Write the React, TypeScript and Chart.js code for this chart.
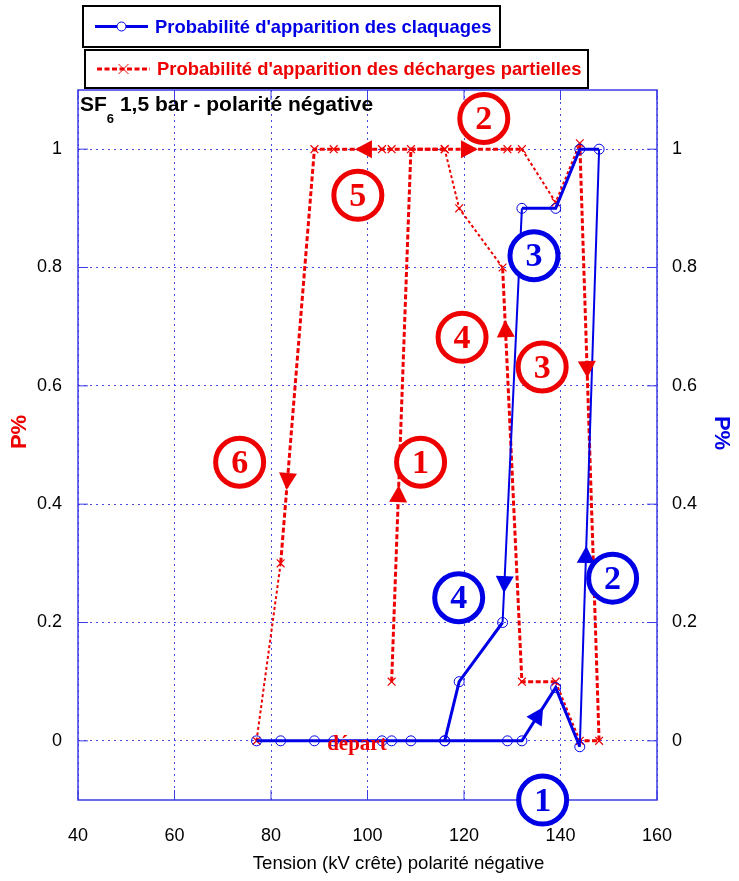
import { useEffect, useRef } from 'react';
import { Chart, registerables } from 'chart.js';

Chart.register(...registerables);

// ---- Data ----
const claquagesLabel = "Probabilité d'apparition des claquages";
const claquagesX = [77, 82, 89, 93, 103, 105, 109, 116, 129, 132, 139, 144, 148, 144, 139, 132, 128, 119, 116];
const claquagesY = [0, 0, 0, 0, 0, 0, 0, 0, 0, 0, 0.09, -0.01, 1, 1, 0.9, 0.9, 0.2, 0.1, 0];

const dechargesLabel = "Probabilité d'apparition des décharges partielles";
const dechargesX = [105, 109, 116, 129, 132, 139, 144, 148, 144, 139, 132, 128, 119, 116, 105, 103, 93, 89, 82, 77];
const dechargesY = [0.1, 1, 1, 1, 1, 0.91, 1.01, 0, 0, 0.1, 0.1, 0.8, 0.9, 1, 1, 1, 1, 1, 0.3, 0];

const xTicks = [40, 60, 80, 100, 120, 140, 160];
const yTicks = [0, 0.2, 0.4, 0.6, 0.8, 1];
const yTickLabels = ['0', '0.2', '0.4', '0.6', '0.8', '1'];

const titleMain = 'SF';
const titleSub = '6';
const titleRest = ' 1,5 bar - polarité négative';
const xTitle = 'Tension (kV crête) polarité négative';
const yTitle = 'P%';
const startText = 'départ';
const startX = 97.8;
const startY = -0.007;

// numbered circle annotations (data coordinates)
const redNumbers = ['1', '2', '3', '4', '5', '6'];
const redNumX = [111.0, 124.1, 136.2, 119.6, 98.0, 73.5];
const redNumY = [0.471, 1.052, 0.632, 0.682, 0.922, 0.471];
const blueNumbers = ['1', '2', '3', '4'];
const blueNumX = [136.3, 150.8, 134.5, 118.9];
const blueNumY = [-0.1, 0.275, 0.82, 0.242];

// arrows: segment index in the series, fraction along segment where the tip sits
const redArrowSeg = [0, 2, 6, 10, 15, 17];
const redArrowT = [0.369, 0.53, 0.393, 0.873, 0.56, 0.823];
const blueArrowSeg = [9, 11, 15];
const blueArrowT = [0.63, 0.336, 0.929];

// segments drawn with the finer stroke in the original figure
const redFineSegments = [4, 5, 8, 11, 12, 18];
const blueFineSegments = [11, 15];

const BLUE = '#0000e6';
const RED = '#ee0000';
const FRAME = '#3c3ce6';
const GRID = 'rgba(40,40,225,0.85)';

function pts(xs: number[], ys: number[]) {
  return xs.map((x, i) => ({ x, y: ys[i] }));
}

function drawCross(ctx: CanvasRenderingContext2D, x: number, y: number, r: number) {
  ctx.beginPath();
  ctx.moveTo(x - r, y - r);
  ctx.lineTo(x + r, y + r);
  ctx.moveTo(x + r, y - r);
  ctx.lineTo(x - r, y + r);
  ctx.stroke();
}

const annotationPlugin = {
  id: 'annot',
  beforeDatasetsDraw(chart: any) {
    const { ctx, chartArea: a, scales } = chart;
    const xs = scales.x;
    const ys = scales.y;
    ctx.save();
    // frame
    ctx.strokeStyle = FRAME;
    ctx.lineWidth = 1.5;
    ctx.setLineDash([]);
    ctx.strokeRect(a.left, a.top, a.right - a.left, a.bottom - a.top);
    // inward ticks
    ctx.beginPath();
    xTicks.forEach((v) => {
      const px = xs.getPixelForValue(v);
      ctx.moveTo(px, a.bottom);
      ctx.lineTo(px, a.bottom - 10);
      ctx.moveTo(px, a.top);
      ctx.lineTo(px, a.top + 10);
    });
    yTicks.forEach((v) => {
      const py = ys.getPixelForValue(v);
      ctx.moveTo(a.left, py);
      ctx.lineTo(a.left + 10, py);
      ctx.moveTo(a.right, py);
      ctx.lineTo(a.right - 10, py);
    });
    ctx.lineWidth = 1;
    ctx.stroke();
    ctx.restore();
  },
  afterDatasetsDraw(chart: any) {
    const { ctx, scales } = chart;
    const xs = scales.x;
    const ys = scales.y;
    const P = (x: number, y: number) => [xs.getPixelForValue(x), ys.getPixelForValue(y)];

    ctx.save();
    // arrows
    const drawArrow = (sx: number[], sy: number[], seg: number, t: number, color: string) => {
      const [x1, y1] = P(sx[seg], sy[seg]);
      const [x2, y2] = P(sx[seg + 1], sy[seg + 1]);
      const dx = x2 - x1;
      const dy = y2 - y1;
      const len = Math.hypot(dx, dy);
      const ux = dx / len;
      const uy = dy / len;
      const tx = x1 + dx * t;
      const ty = y1 + dy * t;
      const L = 17;
      const H = 9;
      const bx = tx - ux * L;
      const by = ty - uy * L;
      ctx.beginPath();
      ctx.moveTo(tx, ty);
      ctx.lineTo(bx - uy * H, by + ux * H);
      ctx.lineTo(bx + uy * H, by - ux * H);
      ctx.closePath();
      ctx.fillStyle = color;
      ctx.fill();
    };
    redArrowSeg.forEach((s, i) => drawArrow(dechargesX, dechargesY, s, redArrowT[i], RED));
    blueArrowSeg.forEach((s, i) => drawArrow(claquagesX, claquagesY, s, blueArrowT[i], BLUE));

    // numbered circles
    const drawNum = (label: string, x: number, y: number, color: string) => {
      const [px, py] = P(x, y);
      ctx.beginPath();
      ctx.arc(px, py, 24, 0, Math.PI * 2);
      ctx.fillStyle = '#ffffff';
      ctx.fill();
      ctx.lineWidth = 5;
      ctx.strokeStyle = color;
      ctx.stroke();
      ctx.fillStyle = color;
      ctx.font = 'bold 34px "Liberation Serif", "Times New Roman", serif';
      ctx.textAlign = 'center';
      ctx.textBaseline = 'middle';
      ctx.fillText(label, px, py + 2);
    };
    redNumbers.forEach((l, i) => drawNum(l, redNumX[i], redNumY[i], RED));
    blueNumbers.forEach((l, i) => drawNum(l, blueNumX[i], blueNumY[i], BLUE));

    // départ
    const [dx0, dy0] = P(startX, startY);
    ctx.fillStyle = RED;
    ctx.font = 'bold 21px "Liberation Serif", "Times New Roman", serif';
    ctx.textAlign = 'center';
    ctx.textBaseline = 'middle';
    ctx.fillText(startText, dx0, dy0);
    ctx.restore();
  },
  afterDraw(chart: any) {
    const { ctx, chartArea: a } = chart;
    const ds = chart.data.datasets;
    ctx.save();
    // legend boxes
    const drawBox = (x0: number, y0: number, x1: number, y1: number, idx: number) => {
      const d = ds[idx];
      ctx.setLineDash([]);
      ctx.lineWidth = 2;
      ctx.strokeStyle = '#000000';
      ctx.strokeRect(x0, y0, x1 - x0, y1 - y0);
      const cy = (y0 + y1) / 2;
      ctx.strokeStyle = d.borderColor;
      ctx.lineWidth = 3;
      ctx.setLineDash(d.borderDash || []);
      ctx.beginPath();
      ctx.moveTo(x0 + 12, cy);
      ctx.lineTo(x0 + 65, cy);
      ctx.stroke();
      ctx.setLineDash([]);
      ctx.lineWidth = 1;
      const mx = x0 + 38.5;
      if (idx === 0) {
        ctx.beginPath();
        ctx.arc(mx, cy, 4.5, 0, Math.PI * 2);
        ctx.fillStyle = '#ffffff';
        ctx.fill();
        ctx.stroke();
      } else {
        drawCross(ctx, mx, cy, 5);
      }
      ctx.fillStyle = d.borderColor;
      ctx.font = 'bold 18.4px "Liberation Sans", Arial, sans-serif';
      ctx.textAlign = 'left';
      ctx.textBaseline = 'middle';
      ctx.fillText(d.label, x0 + 72, cy + 1);
    };
    drawBox(83, 6, 500, 47, 0);
    drawBox(85, 50, 588, 88, 1);

    // chart title
    ctx.fillStyle = '#000000';
    ctx.textAlign = 'left';
    ctx.textBaseline = 'alphabetic';
    ctx.font = 'bold 21px "Liberation Sans", Arial, sans-serif';
    ctx.fillText(titleMain, a.left + 2, a.top + 21);
    const w1 = ctx.measureText(titleMain).width;
    ctx.font = 'bold 13px "Liberation Sans", Arial, sans-serif';
    ctx.fillText(titleSub, a.left + 2 + w1, a.top + 33);
    const w2 = ctx.measureText(titleSub).width;
    ctx.font = 'bold 21px "Liberation Sans", Arial, sans-serif';
    ctx.fillText(titleRest, a.left + 2 + w1 + w2, a.top + 21);

    // x axis title
    ctx.font = '18.6px "Liberation Sans", Arial, sans-serif';
    ctx.textAlign = 'center';
    ctx.textBaseline = 'middle';
    ctx.fillText(xTitle, (a.left + a.right) / 2 + 31, 864);

    // y titles
    ctx.font = 'bold 22px "Liberation Sans", Arial, sans-serif';
    ctx.save();
    ctx.translate(20, 432);
    ctx.rotate(-Math.PI / 2);
    ctx.fillStyle = RED;
    ctx.fillText(yTitle, 0, 0);
    ctx.restore();
    ctx.save();
    ctx.translate(721, 433);
    ctx.rotate(Math.PI / 2);
    ctx.fillStyle = BLUE;
    ctx.fillText(yTitle, 0, 0);
    ctx.restore();
    ctx.restore();
  },
};

const tickFont = { family: '"Liberation Sans", Arial, sans-serif', size: 18 };

export default function App() {
  const ref = useRef<HTMLCanvasElement>(null);
  useEffect(() => {
    document.body.style.margin = '0';
    const setTicks = (scale: any) => {
      scale.ticks = yTicks.map((v) => ({ value: v }));
    };
    const tickLabel = (v: any) => {
      const i = yTicks.findIndex((t) => Math.abs(t - v) < 1e-9);
      return i >= 0 ? yTickLabels[i] : '';
    };
    const chart = new Chart(ref.current as HTMLCanvasElement, {
      type: 'scatter',
      data: {
        datasets: [
          {
            label: claquagesLabel,
            data: pts(claquagesX, claquagesY),
            showLine: true,
            borderColor: BLUE,
            backgroundColor: 'rgba(0,0,0,0)',
            borderWidth: 3,
            pointStyle: 'circle',
            pointRadius: 5,
            pointBorderWidth: 1,
            pointBorderColor: BLUE,
            pointBackgroundColor: 'rgba(0,0,0,0)',
            tension: 0,
            yAxisID: 'y',
            segment: {
              borderWidth: (c: any) => (blueFineSegments.includes(c.p0DataIndex) ? 2 : 3),
            },
          },
          {
            label: dechargesLabel,
            data: pts(dechargesX, dechargesY),
            showLine: true,
            borderColor: RED,
            backgroundColor: 'rgba(0,0,0,0)',
            borderWidth: 3,
            borderDash: [5, 2.5],
            pointStyle: 'crossRot',
            pointRadius: 5.5,
            pointBorderWidth: 1.2,
            pointBorderColor: RED,
            tension: 0,
            yAxisID: 'y',
            segment: {
              borderWidth: (c: any) => (redFineSegments.includes(c.p0DataIndex) ? 2 : 3),
              borderDash: (c: any) => (redFineSegments.includes(c.p0DataIndex) ? [3, 2.5] : [5, 2.5]),
            },
          },
        ],
      },
      options: {
        animation: false,
        responsive: false,
        maintainAspectRatio: false,
        layout: { padding: { top: 90, left: 0, right: 0, bottom: 0 } },
        plugins: { legend: { display: false }, tooltip: { enabled: false }, title: { display: false } },
        scales: {
          x: {
            type: 'linear',
            min: 40,
            max: 160,
            afterBuildTicks: (scale: any) => {
              scale.ticks = xTicks.map((v) => ({ value: v }));
            },
            afterFit: (scale: any) => {
              scale.height = 81;
            },
            ticks: { color: '#000', font: tickFont, padding: 25, maxRotation: 0 },
            grid: { color: GRID, lineWidth: 1, drawTicks: false },
            border: { display: false, dash: [2, 4] },
          },
          y: {
            type: 'linear',
            position: 'left',
            min: -0.1,
            max: 1.1,
            afterBuildTicks: setTicks,
            afterFit: (scale: any) => {
              scale.width = 78;
            },
            ticks: { color: '#000', font: tickFont, padding: 16, callback: tickLabel },
            grid: { color: GRID, lineWidth: 1, drawTicks: false },
            border: { display: false, dash: [2, 4] },
          },
          y2: {
            type: 'linear',
            position: 'right',
            min: -0.1,
            max: 1.1,
            afterBuildTicks: setTicks,
            afterFit: (scale: any) => {
              scale.width = 82;
            },
            ticks: { color: '#000', font: tickFont, padding: 15, callback: tickLabel },
            grid: { display: false, drawTicks: false },
            border: { display: false },
          },
        },
      },
      plugins: [annotationPlugin],
    } as any);
    return () => chart.destroy();
  }, []);
  return (
    <div style={{ width: 739, height: 881 }}>
      <canvas ref={ref} width={739} height={881} style={{ display: 'block' }} />
    </div>
  );
}
